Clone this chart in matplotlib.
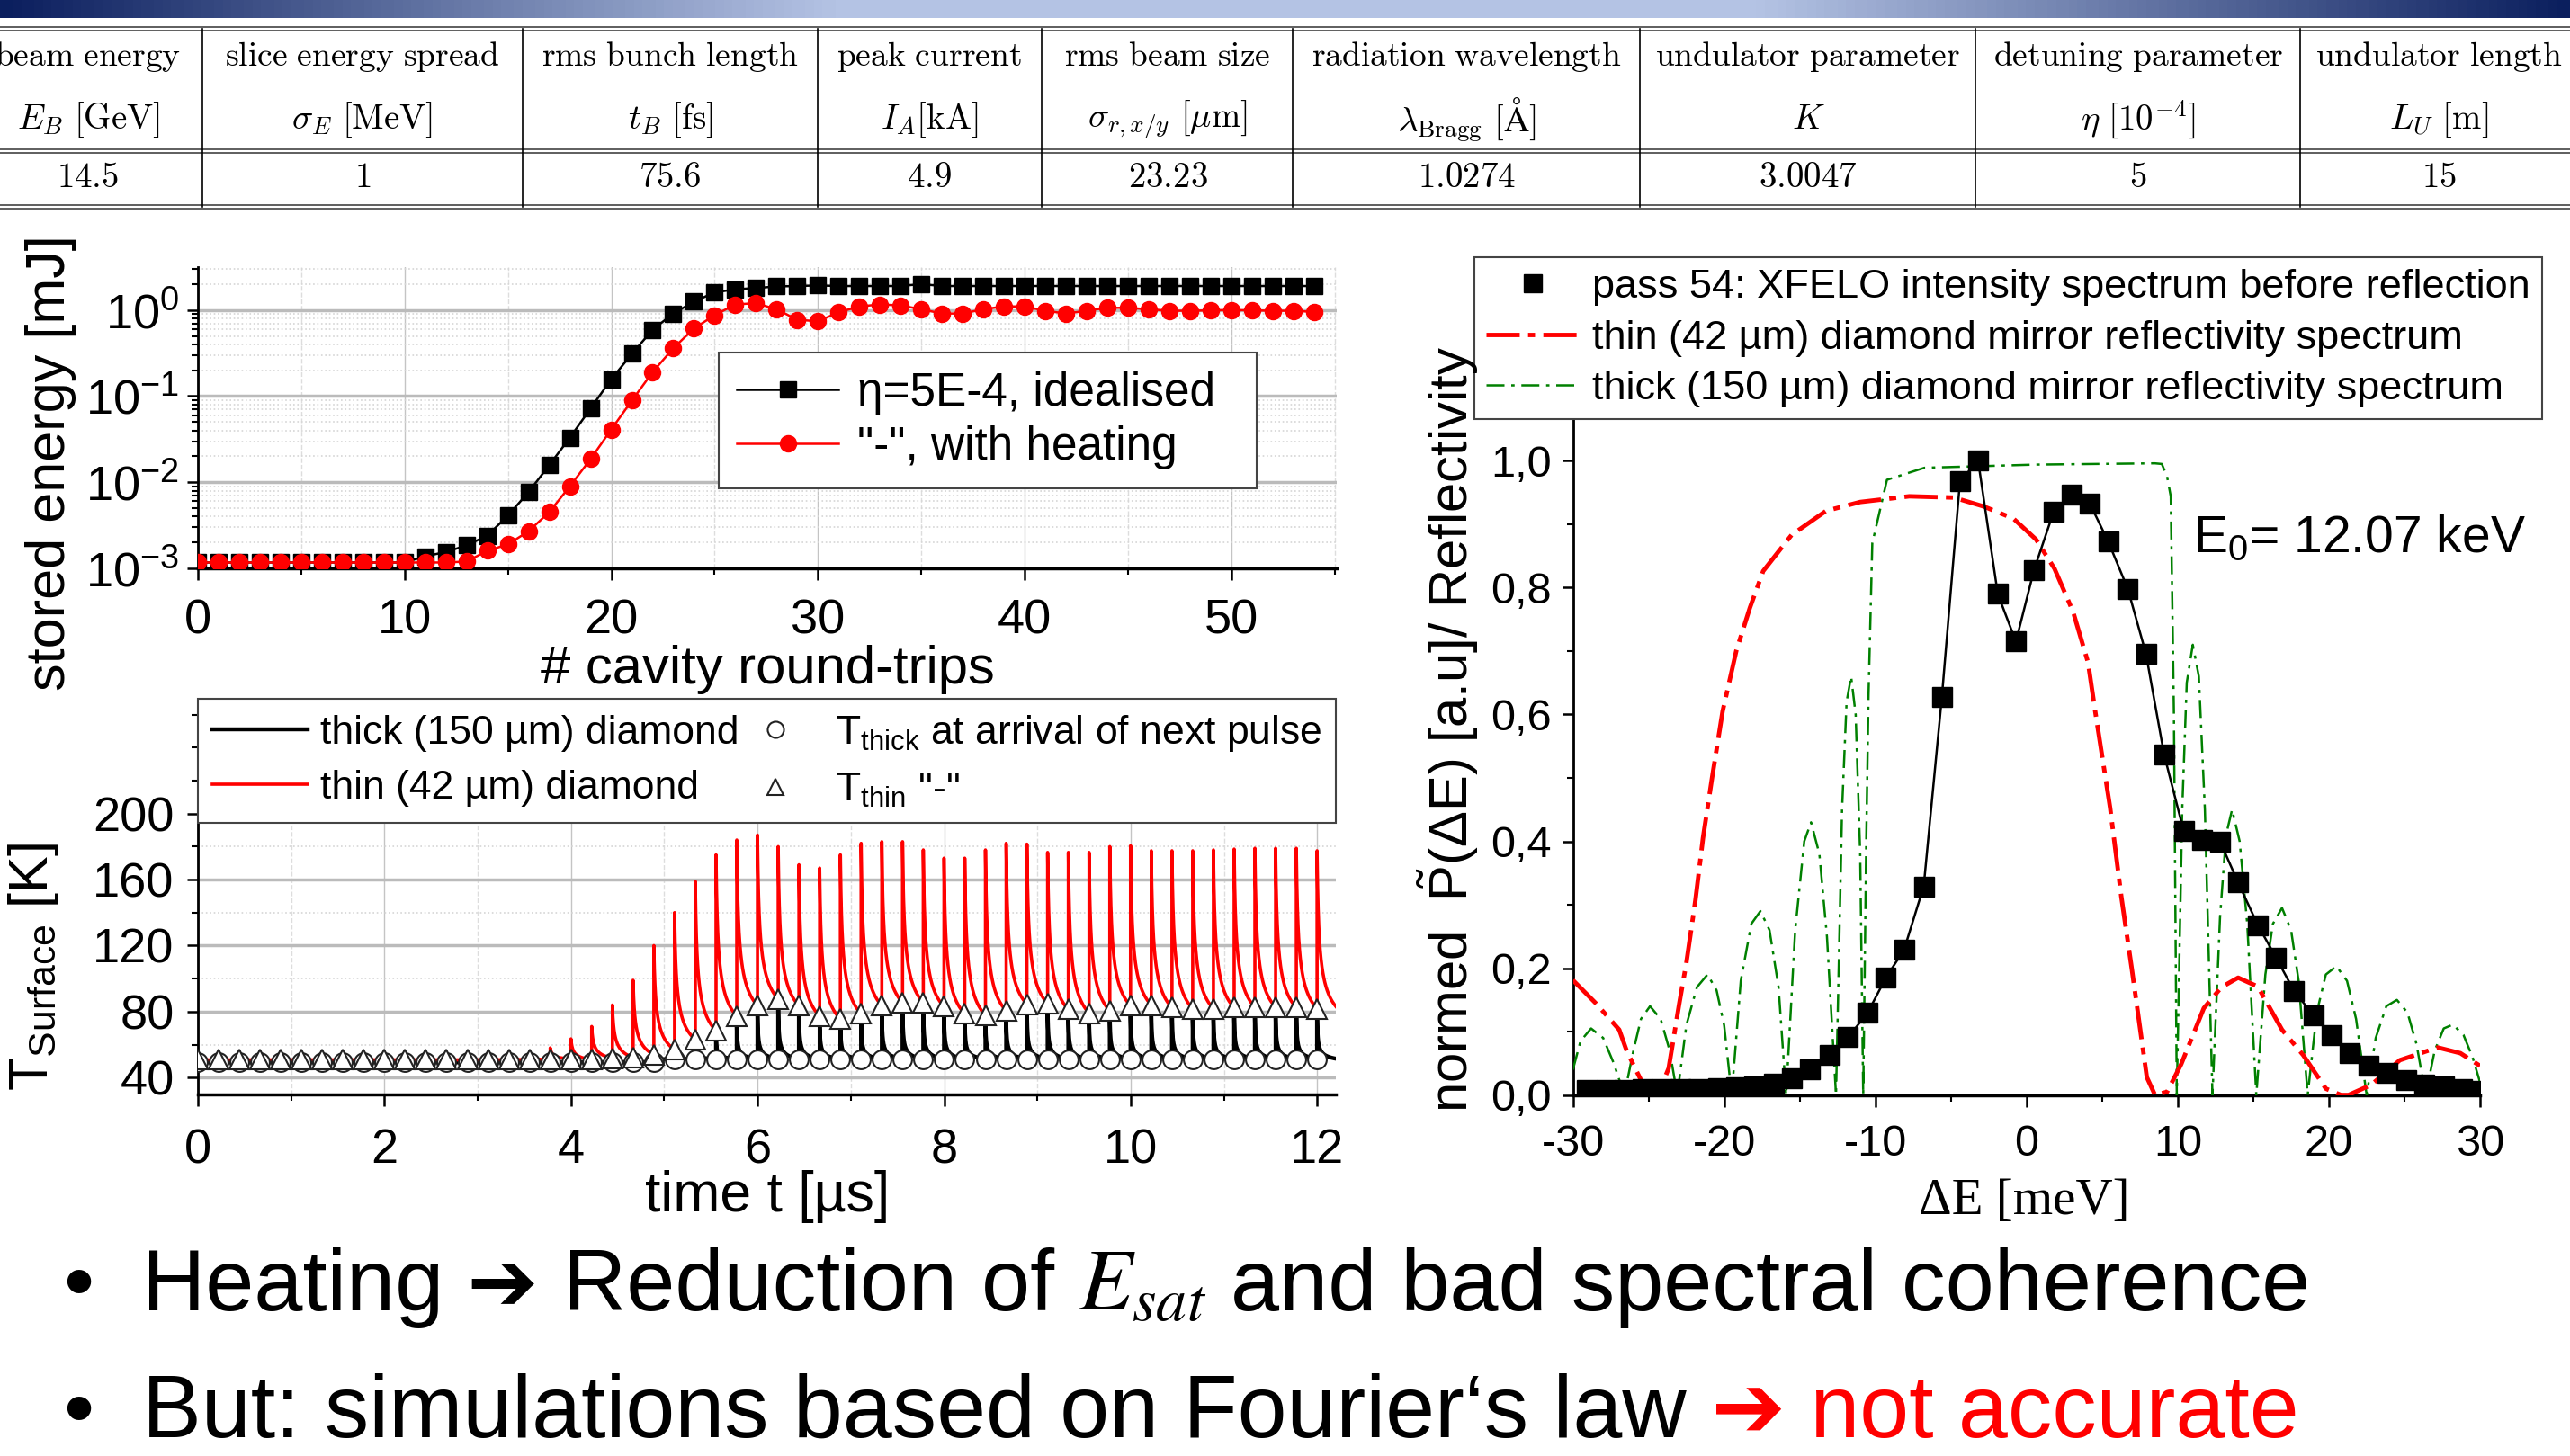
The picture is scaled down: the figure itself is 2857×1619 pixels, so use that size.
import numpy as np
import matplotlib
matplotlib.use("Agg")
import matplotlib.pyplot as plt
from matplotlib.colors import LinearSegmentedColormap
from matplotlib.lines import Line2D
from matplotlib.ticker import MultipleLocator, LogLocator, NullFormatter, FuncFormatter

plt.rcParams['font.family'] = ['Liberation Sans', 'DejaVu Sans']
plt.rcParams['mathtext.fontset'] = 'custom'
plt.rcParams['mathtext.rm'] = 'Liberation Sans'
plt.rcParams['mathtext.it'] = 'Liberation Sans:italic'
plt.rcParams['mathtext.bf'] = 'Liberation Sans:bold'
plt.rcParams['axes.unicode_minus'] = False

# ---------------- data ----------------
# parameter table
tab_names = ['beam energy', 'slice energy spread', 'rms bunch length', 'peak current',
             'rms beam size', 'radiation wavelength', 'undulator parameter',
             'detuning parameter', 'undulator length']
tab_symbols = [r'$E_B\ [\mathrm{GeV}]$', r'$\sigma_E\ [\mathrm{MeV}]$', r'$t_B\ [\mathrm{fs}]$',
               r'$I_A[\mathrm{kA}]$', r'$\sigma_{r,x/y}\ [\mathrm{\mu m}]$',
               r'$\lambda_{\mathrm{Bragg}}\ [\mathrm{Å}]$', r'$K$', r'$\eta\ [10^{-4}]$',
               r'$L_U\ [\mathrm{m}]$']
tab_values = ['14.5', '1', '75.6', '4.9', '23.23', '1.0274', '3.0047', '5', '15']

# stored energy vs round trip (0..54)
E_ideal = [1.17e-3] * 11 + [1.38e-3, 1.55e-3, 1.85e-3, 2.4e-3, 4.1e-3, 7.7e-3, 1.58e-2,
           3.3e-2, 7.2e-2, 0.157, 0.31, 0.59, 0.91, 1.25, 1.6, 1.74, 1.8, 1.88, 1.9, 1.93,
           1.9, 1.9, 1.9, 1.9, 2.0] + [1.9] * 19
E_heat = [1.17e-3] * 13 + [1.2e-3, 1.6e-3, 1.9e-3, 2.7e-3, 4.5e-3, 9e-3, 1.86e-2, 4.1e-2,
          8.9e-2, 0.19, 0.36, 0.61, 0.87, 1.16, 1.2, 1.02, 0.77, 0.74, 0.94, 1.1, 1.16, 1.13,
          1.02, 0.91, 0.91, 1.02, 1.1, 1.1, 0.98, 0.91, 0.98, 1.06, 1.06, 1.02, 0.98, 0.98,
          0.99, 1.0, 0.99, 0.98, 0.98, 0.95]

# surface temperature, per pulse n = 0..54
T_rt = 0.2222  # us, cavity round trip
thin_peak = [50.5] * 14 + [51, 52, 53.5, 58, 63.5, 71, 84, 99, 120, 140, 159, 175, 184, 187,
             180, 169, 167, 175, 182, 183, 183, 178, 173, 173, 178, 182, 181.5, 176.5, 176.5,
             176.5, 180, 180.5, 177.5, 177.5, 177.5, 178, 178.5, 179, 179, 179, 177.5]
thin_next = [50.8] * 18 + [51.3, 50.9, 51.8, 52.2, 54, 56.9, 63.1, 68.5, 77.3, 83.6, 87.6,
             83.6, 77.3, 75.5, 78.7, 83.6, 85.5, 85.5, 83.1, 78.7, 77.8, 80.5, 84.5, 84.9,
             81.3, 79.1, 80.5, 83.6, 84, 82.4, 81.8, 81.8, 82.4, 82.7, 82.7, 82.4, 81.8]
thick_peak = [49.5] * 22 + [50, 52.5, 58.5, 64, 72.5, 79, 83, 79, 72.5, 71, 74, 79, 81, 81,
              78.5, 74, 73, 76, 80, 80.5, 76.5, 74.5, 76, 79, 79.5, 78, 77, 77, 78, 78, 78,
              78, 77]
thick_next = [49.2] * 23 + [51.3] * 32

# spectra
dE_pass = [-29.1, -27.8, -26.6, -25.4, -24.1, -22.9, -21.7, -20.4, -19.2, -18.0, -16.7,
           -15.5, -14.3, -13.0, -11.8, -10.5, -9.3, -8.1, -6.8, -5.6, -4.4, -3.2, -1.9,
           -0.7, 0.5, 1.8, 3.0, 4.2, 5.4, 6.7, 7.9, 9.1, 10.4, 11.6, 12.8, 14.0, 15.3, 16.5,
           17.7, 19.0, 20.2, 21.4, 22.6, 23.9, 25.1, 26.3, 27.6, 28.8, 30.0]
P_pass = [0.008, 0.008, 0.008, 0.009, 0.009, 0.009, 0.010, 0.011, 0.012, 0.014, 0.018,
          0.027, 0.041, 0.063, 0.091, 0.130, 0.185, 0.229, 0.329, 0.627, 0.968, 1.0, 0.79,
          0.715, 0.828, 0.92, 0.947, 0.932, 0.873, 0.798, 0.696, 0.537, 0.416, 0.402, 0.40,
          0.335, 0.268, 0.217, 0.164, 0.125, 0.094, 0.066, 0.046, 0.035, 0.024, 0.016,
          0.013, 0.010, 0.007]

dE_thin = [-30, -28.5, -26.94, -26.45, -25.76, -25.0, -24.4, -23.67, -22.97, -22.5, -21.9,
           -21.4, -20.8, -20.1, -19.2, -18.3, -17.42, -15.54, -13.26, -11.0, -7.75, -4.8,
           -2.83, -0.87, 0.63, 1.85, 3.08, 4.07, 4.55, 5.53, 6.27, 6.97, 7.96, 8.5, 9.3,
           10.24, 11.73, 12.9, 14.0, 15.3, 16.9, 18.3, 19.8, 20.8, 21.3, 22.8, 24.7, 27.2,
           28.7, 30]
R_thin = [0.181, 0.145, 0.103, 0.07, 0.036, 0.0, 0.0, 0.042, 0.144, 0.208, 0.307, 0.405,
          0.50, 0.605, 0.70, 0.768, 0.826, 0.883, 0.921, 0.935, 0.944, 0.942, 0.928, 0.909,
          0.876, 0.83, 0.762, 0.682, 0.604, 0.453, 0.313, 0.198, 0.028, 0.0, 0.005, 0.049,
          0.137, 0.17, 0.185, 0.171, 0.103, 0.063, 0.01, 0.0, 0.0, 0.016, 0.055, 0.075,
          0.066, 0.046]

dE_thick = [-30.0, -29.5, -28.8, -28.0, -27.3, -26.6, -26.0, -25.5, -24.9, -24.2, -23.6,
            -23.1, -22.5, -21.8, -21.1, -20.5, -20.0, -19.5, -18.9, -18.2, -17.6, -17.0,
            -16.4, -15.9, -15.3, -14.7, -14.25, -13.7, -13.2, -12.6, -12.2, -11.9, -11.6,
            -11.3, -11.0, -10.8, -10.6, -10.45, -10.2, -9.23, -6.75, 0.6, 8.48, 8.95, 9.3,
            9.54, 9.75, 9.94, 10.3, 10.6, 11.0, 11.4, 11.8, 12.3, 12.8, 13.2, 13.6, 14.1,
            14.6, 15.2, 15.8, 16.3, 16.9, 17.5, 18.0, 18.6, 19.2, 19.8, 20.5, 21.2, 21.8,
            22.5, 23.1, 23.8, 24.5, 25.2, 25.8, 26.4, 27.0, 27.6, 28.2, 28.9, 29.5, 30.0]
R_thick = [0.04, 0.085, 0.105, 0.09, 0.05, 0.0, 0.07, 0.12, 0.14, 0.12, 0.07, 0.0, 0.11,
           0.17, 0.19, 0.165, 0.11, 0.0, 0.18, 0.27, 0.29, 0.26, 0.17, 0.0, 0.26, 0.40,
           0.43, 0.38, 0.25, 0.0, 0.45, 0.62, 0.66, 0.60, 0.38, 0.0, 0.40, 0.63, 0.87, 0.97,
           0.989, 0.994, 0.996, 0.995, 0.975, 0.944, 0.6, 0.0, 0.45, 0.65, 0.71, 0.66, 0.45,
           0.0, 0.28, 0.41, 0.45, 0.40, 0.27, 0.0, 0.19, 0.27, 0.295, 0.26, 0.18, 0.0, 0.13,
           0.19, 0.203, 0.18, 0.12, 0.0, 0.09, 0.14, 0.15, 0.13, 0.08, 0.0, 0.07, 0.105,
           0.111, 0.095, 0.06, 0.02]

# ---------------- figure ----------------
W, H = 2857, 1619
fig = plt.figure(figsize=(W / 100, H / 100), dpi=100)
renderer = fig.canvas.get_renderer()


def box(x0, y0, x1, y1):
    return [x0 / W, 1 - y1 / H, (x1 - x0) / W, (y1 - y0) / H]


def style(ax, lsize, xpad, ypad):
    for s in ['top', 'right']:
        ax.spines[s].set_visible(False)
    ax.spines['left'].set_linewidth(2)
    ax.spines['bottom'].set_linewidth(2.5)
    ax.tick_params(which='major', direction='out', length=9, width=1.8, labelsize=lsize)
    ax.tick_params(which='minor', direction='out', length=5, width=1.5)
    ax.tick_params(axis='x', pad=xpad)
    ax.tick_params(axis='y', pad=ypad)
    ax.set_axisbelow(True)


# background axes in pixel units: header bar, table, bullets
bg = fig.add_axes([0, 0, 1, 1])
bg.set_xlim(0, W)
bg.set_ylim(H, 0)
bg.axis('off')

bar = fig.add_axes(box(0, 0, W, 20))
cmap = LinearSegmentedColormap.from_list('bar', [(0, '#0b1f5e'), (0.324, '#b4c3e4'),
                                                 (0.685, '#b4c3e4'), (1, '#0b1f5e')])
bar.imshow(np.linspace(0, 1, 600)[None, :], aspect='auto', cmap=cmap, extent=(0, 1, 0, 1))
bar.axis('off')

for y in [30, 34, 166, 170, 228, 232]:
    bg.plot([0, W], [y, y], color='#333333', lw=1.1)
col_edges = [225, 581, 909, 1158, 1437, 1823, 2196, 2557]
for x in col_edges:
    bg.plot([x, x], [32, 230], color='black', lw=1.2)
col_mid = [98, 403, 745, 1033, 1298, 1630, 2010, 2377, 2711]
for x, a, b, c in zip(col_mid, tab_names, tab_symbols, tab_values):
    bg.text(x, 63, r'$\mathrm{' + a.replace(' ', r'\ ') + '}$', ha='center', va='center',
            fontsize=27, math_fontfamily='cm')
    bg.text(x, 133, b, ha='center', va='center', fontsize=28, math_fontfamily='cm')
    bg.text(x, 198, r'$\mathrm{' + c + '}$', ha='center', va='center', fontsize=28,
            math_fontfamily='cm')

# ---- stored energy
ax1 = fig.add_axes(box(220, 297, 1486, 632))
n_trip = np.arange(len(E_ideal))
ax1.plot(n_trip, E_ideal, color='black', lw=1.8, marker='s', ms=13,
         label='η=5E-4, idealised', zorder=4)
ax1.plot(n_trip, E_heat, color='red', lw=1.8, marker='o', ms=13,
         label='"-", with heating', zorder=4)
ax1.set_yscale('log')
ax1.set_xlim(0, 55.1)
ax1.set_ylim(1e-3, 3.15)
ax1.xaxis.set_major_locator(MultipleLocator(10))
ax1.xaxis.set_minor_locator(MultipleLocator(5))
ax1.yaxis.set_major_locator(LogLocator(base=10, numticks=10))
ax1.yaxis.set_minor_locator(LogLocator(base=10, subs=np.arange(2, 10), numticks=10))
ax1.yaxis.set_minor_formatter(NullFormatter())
style(ax1, 39, 15, 6)
ax1.grid(True, which='major', axis='y', color='#bbbbbb', lw=2.5)
ax1.grid(True, which='major', axis='x', color='#c4c4c4', lw=1.0)
ax1.grid(True, which='minor', axis='y', color='#d6d6d6', lw=1.2, ls=':')
ax1.grid(True, which='minor', axis='x', color='#dddddd', lw=1.0, ls='--')
leg1 = ax1.legend(loc='center left', bbox_to_anchor=(0.457, 0.275, 0.473, 0.432),
                  mode='expand', borderaxespad=0, fontsize=37, handlelength=2.2,
                  handletextpad=0.4, labelspacing=0.22, fancybox=False, framealpha=1,
                  edgecolor='#444444')
leg1.get_frame().set_linewidth(1.5)
fig.text(57 / W, 1 - 515 / H, 'stored energy [mJ]', rotation=90, ha='center', va='center',
         fontsize=44)
fig.text(853 / W, 1 - 744 / H, '# cavity round-trips', ha='center', va='center', fontsize=43)


# ---- surface temperature
def train(peaks, lows, tau):
    frac = np.linspace(0, 1, 120) ** 2
    fe = (1 + T_rt / tau) ** -0.5
    tt, yy = [], []
    for k in range(len(peaks)):
        end = lows[min(k + 1, len(lows) - 1)]
        dt = frac * T_rt
        g = ((1 + dt / tau) ** -0.5 - fe) / (1 - fe)
        tt.append(k * T_rt + dt)
        yy.append(end + (peaks[k] - end) * g)
    return np.concatenate(tt), np.concatenate(yy)


ax2 = fig.add_axes(box(220, 777, 1485, 1216.6))
t_pulse = np.arange(len(thin_next)) * T_rt
t_k, y_k = train(thick_peak, thick_next, 0.004)
t_r, y_r = train(thin_peak, thin_next, 0.012)
ax2.plot(t_k, y_k, color='black', lw=3.2, zorder=3)
ax2.plot(t_r, y_r, color='red', lw=2.6, zorder=4)
ax2.plot(t_pulse, thick_next, ls='none', marker='o', ms=15, mfc='white', mec='#222222',
         mew=1.5, zorder=5)
ax2.plot(t_pulse, thin_next, ls='none', marker='^', ms=16, mfc='white', mec='#222222',
         mew=1.5, zorder=6)
ax2.set_xlim(0, 12.2)
ax2.set_ylim(30, 269.6)
ax2.xaxis.set_major_locator(MultipleLocator(2))
ax2.xaxis.set_minor_locator(MultipleLocator(1))
ax2.set_yticks([40, 80, 120, 160, 200])
ax2.yaxis.set_minor_locator(MultipleLocator(20))
style(ax2, 39, 18, 10)
ax2.grid(True, which='major', axis='y', color='#bbbbbb', lw=2.5)
ax2.grid(True, which='major', axis='x', color='#c4c4c4', lw=1.0)
ax2.grid(True, which='minor', axis='y', color='#d6d6d6', lw=1.2, ls=':')
ax2.grid(True, which='minor', axis='x', color='#dddddd', lw=1.0, ls='--')
h2 = [Line2D([], [], color='black', lw=3.2), Line2D([], [], color='red', lw=2.6),
      Line2D([], [], ls='none', marker='o', ms=13, mfc='white', mec='#222222', mew=1.5),
      Line2D([], [], ls='none', marker='^', ms=13, mfc='white', mec='#222222', mew=1.5)]
l2 = ['thick (150 µm) diamond', 'thin (42 µm) diamond',
      r'T$_{\rm thick}$ at arrival of next pulse', r'T$_{\rm thin}$ "-"']
leg2 = ax2.legend(h2, l2, ncol=2, loc='upper left', bbox_to_anchor=(0, 0.693, 1, 0.307),
                  mode='expand', borderaxespad=0, fontsize=32, handlelength=2.4,
                  handletextpad=0.3, labelspacing=0.45, borderpad=0.35, fancybox=False,
                  framealpha=1, edgecolor='#444444')
leg2.get_frame().set_linewidth(1.5)
leg2.set_zorder(10)
fig.text(38 / W, 1 - 1075 / H, r'T$_{\rm Surface}$ [K]', rotation=90, ha='center',
         va='center', fontsize=44)
fig.text(853 / W, 1 - 1330 / H, 'time t [µs]', ha='center', va='center', fontsize=45)

# ---- spectrum
ax3 = fig.add_axes(box(1748.6, 463, 2757, 1217.6))
ax3.plot(dE_thick, R_thick, color='#008000', lw=1.8, ls=(0, (8, 3, 1.5, 3)), zorder=3)
ax3.plot(dE_thin, R_thin, color='red', lw=3.5, ls=(0, (7.6, 1.9, 1.6, 1.9)), zorder=4)
ax3.plot(dE_pass, P_pass, color='black', lw=1.8, marker='s', ms=16, zorder=5)
ax3.set_xlim(-30, 30)
ax3.set_ylim(0, 1.07)
ax3.xaxis.set_major_locator(MultipleLocator(10))
ax3.xaxis.set_minor_locator(MultipleLocator(5))
ax3.yaxis.set_major_locator(MultipleLocator(0.2))
ax3.yaxis.set_minor_locator(MultipleLocator(0.1))
ax3.yaxis.set_major_formatter(FuncFormatter(lambda v, p: f'{v:.1f}'.replace('.', ',')))
style(ax3, 35, 14, 8)
ax3.text(11.0, 0.878, r'E$_0$= 12.07 keV', ha='left', va='center', fontsize=41)
h3 = [Line2D([], [], ls='none', marker='s', ms=15, color='black'),
      Line2D([], [], color='red', lw=3.5, ls=(0, (7.6, 1.9, 1.6, 1.9))),
      Line2D([], [], color='#008000', lw=1.8, ls=(0, (8, 3, 1.5, 3)))]
l3 = ['pass 54: XFELO intensity spectrum before reflection',
      'thin (42 µm) diamond mirror reflectivity spectrum',
      'thick (150 µm) diamond mirror reflectivity spectrum']
leg3 = ax3.legend(h3, l3, loc='upper left',
                  bbox_to_anchor=(1638.6 / W, 1 - 462.7 / H, (2825.5 - 1638.6) / W,
                                  (462.7 - 285.7) / H),
                  bbox_transform=fig.transFigure, mode='expand', borderaxespad=0,
                  fontsize=32.5, handlelength=2.3, handletextpad=0.3, labelspacing=0.34,
                  borderpad=0.3, fancybox=False, framealpha=1, edgecolor='#444444')
leg3.get_frame().set_linewidth(1.5)
fig.text(1610 / W, 1 - 811 / H, r'normed  $\tilde{\mathrm{P}}$(ΔE) [a.u]/ Reflectivity',
         rotation=90, ha='center', va='center', fontsize=43)
fig.text(2250 / W, 1 - 1336 / H, 'ΔE [meV]', ha='center', va='center', fontsize=41,
         family=['Liberation Serif', 'DejaVu Serif'])


# ---- bullets: pieces placed one after another on a common baseline
def run(x, y, s, size, **kw):
    t = bg.text(x, y, s, va='baseline', ha='left', fontsize=size, **kw)
    return t.get_window_extent(renderer).x1


bg.text(70, 1457, '•', fontsize=70, va='baseline')
x = run(158, 1457, 'Heating', 70)
x = run(x, 1457, ' ➔', 68)
x = run(x, 1457, ' Reduction of', 70)
x = run(x, 1457, r' $E_{sat}$', 70, math_fontfamily='stix')
run(x, 1457, ' and bad spectral coherence', 70)

bg.text(70, 1598, '•', fontsize=70, va='baseline')
x = run(158, 1598, 'But: simulations based on Fourier‘s law', 71)
run(x, 1598, ' ➔ not accurate', 71, color='red')

fig.savefig('out.png', dpi=100)
